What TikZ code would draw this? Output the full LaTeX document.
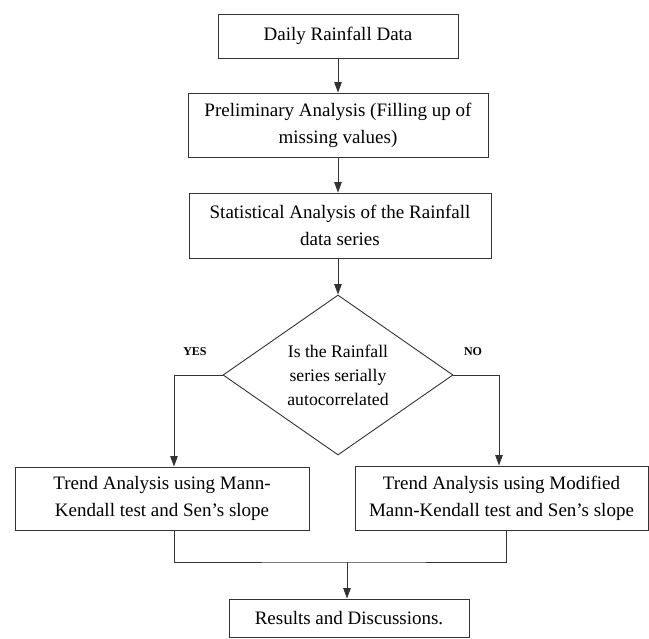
\documentclass[tikz,border=0pt]{standalone}
\usepackage{fontspec}
\setmainfont{Liberation Serif}
\usetikzlibrary{shapes.geometric,arrows.meta}
\begin{document}
\begin{tikzpicture}[x=1pt,y=-1pt,
  box/.style={draw=black!80, line width=0.9pt, inner sep=0pt, align=center,
    font=\fontsize{19}{27}\selectfont},
  decision/.style={draw=black!80, line width=0.9pt, diamond, aspect=1.4375, inner sep=0pt,
    align=center, minimum width=230pt, minimum height=160pt,
    font=\fontsize{17.7}{24}\selectfont},
  arr/.style={draw=black!80, line width=0.9pt, -{Triangle[length=10.5pt,width=7.5pt]}},
  ln/.style={draw=black!80, line width=0.9pt},
  lab/.style={font=\fontsize{12}{14}\bfseries\selectfont}]
\useasboundingbox (0,0) rectangle (649,639);

\node[box, minimum width=240pt, minimum height=44pt] (b1) at (338,36) {Daily Rainfall Data};
\node[box, minimum width=300pt, minimum height=64pt] (b2) at (338,125)
  {Preliminary Analysis (Filling up of\\missing values)};
\node[box, minimum width=302pt, minimum height=65pt] (b3) at (340,225.5)
  {Statistical Analysis of the Rainfall\\data series};
\node[decision] (d) at (338,375) {Is the Rainfall\\series serially\\autocorrelated};
\node[lab] (yes) at (195,352) {YES};
\node[lab] (no) at (473,352) {NO};
\node[box, minimum width=294pt, minimum height=63pt] (lbox) at (162,498.5)
  {Trend Analysis using Mann-\\Kendall test and Sen's slope};
\node[box, minimum width=293pt, minimum height=64pt] (rbox) at (501.5,498)
  {Trend Analysis using Modified\\Mann-Kendall test and Sen's slope};
\node[box, minimum width=240pt, minimum height=38pt] (res) at (349,618)
  {Results and Discussions.};

\coordinate (m) at (347,562);

\draw[arr] (b1.south) -- (b1.south |- b2.north);
\draw[arr] (b1.south |- b2.south) -- (b1.south |- b3.north);
\draw[arr] (d.north |- b3.south) -- (d.north);
\draw[arr] (d.west) -| ([xshift=12pt]lbox.north);
\draw[arr] (d.east) -| ([xshift=-2.5pt]rbox.north);
\draw[ln] ([xshift=12pt]lbox.south) |- (m) -| ([xshift=4.5pt]rbox.south);
\draw[arr] (m) -- (m |- res.north);
\end{tikzpicture}
\end{document}
